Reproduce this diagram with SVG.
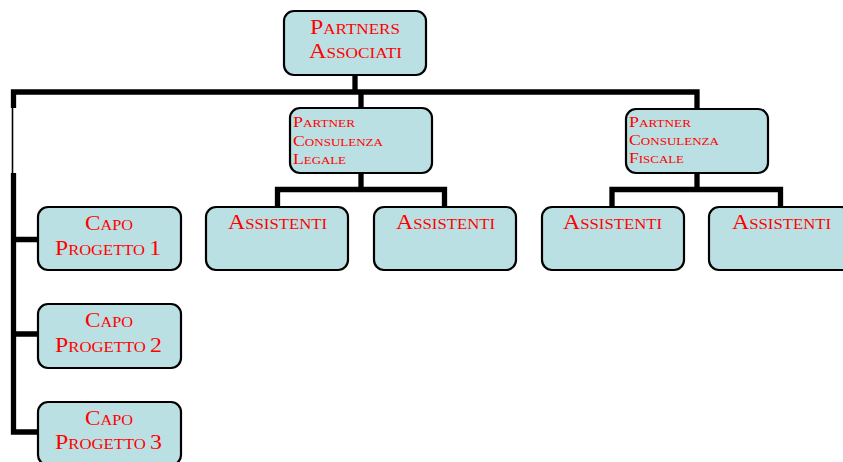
<svg xmlns="http://www.w3.org/2000/svg" width="843" height="462" viewBox="0 0 843 462">
<style>
.box{fill:#BBE0E3;stroke:#000;stroke-width:2.2}
.t{font-family:"Liberation Serif","Times New Roman",serif;fill:#FF0000}
.l{font-size:14px}.l .b{font-size:20px}
.m{font-size:15px}.m .b{font-size:21px}
.s{font-size:11px}.s .b{font-size:15px}
.c{fill:none;stroke:#000;stroke-width:5.3}
.thin{fill:none;stroke:#000;stroke-width:1.6}
</style>
<rect width="843" height="462" fill="#fff"/>
<g id="connectors">
<path class="c" d="M355,76V92M13.5,108V92H697V108M361,92V107"/>
<path class="thin" d="M12.5,108V173"/>
<path class="c" d="M13.5,173V434.5M11,239.5H37M11,334H37M11,432H37"/>
<path class="c" d="M361,174V189.5M277.5,206V189.5H444.5V206"/>
<path class="c" d="M697,173V189.5M612,206V189.5H780.5V206"/>
</g>
<g id="partners-associati">
<rect class="box" x="284" y="11" width="142" height="64" rx="10"/>
<text class="t m" x="310" y="34" textLength="90" lengthAdjust="spacingAndGlyphs"><tspan class="b">P</tspan>ARTNERS</text>
<text class="t m" x="309" y="58" textLength="93" lengthAdjust="spacingAndGlyphs"><tspan class="b">A</tspan>SSOCIATI</text>
</g>
<g id="partner-legale">
<rect class="box" x="290" y="108" width="142" height="65" rx="10"/>
<text class="t s" x="293" y="127" textLength="62" lengthAdjust="spacingAndGlyphs"><tspan class="b">P</tspan>ARTNER</text>
<text class="t s" x="293" y="145.5" textLength="90" lengthAdjust="spacingAndGlyphs"><tspan class="b">C</tspan>ONSULENZA</text>
<text class="t s" x="293" y="164" textLength="53" lengthAdjust="spacingAndGlyphs"><tspan class="b">L</tspan>EGALE</text>
</g>
<g id="partner-fiscale">
<rect class="box" x="626" y="109" width="142" height="64" rx="10"/>
<text class="t s" x="629" y="127" textLength="62" lengthAdjust="spacingAndGlyphs"><tspan class="b">P</tspan>ARTNER</text>
<text class="t s" x="629" y="144.5" textLength="90" lengthAdjust="spacingAndGlyphs"><tspan class="b">C</tspan>ONSULENZA</text>
<text class="t s" x="629" y="163" textLength="55" lengthAdjust="spacingAndGlyphs"><tspan class="b">F</tspan>ISCALE</text>
</g>
<g id="assistenti-1">
<rect class="box" x="206" y="207" width="142" height="63" rx="10"/>
<text class="t l" x="228" y="229" textLength="99" lengthAdjust="spacingAndGlyphs"><tspan class="b">A</tspan>SSISTENTI</text>
</g>
<g id="assistenti-2">
<rect class="box" x="374" y="207" width="142" height="63" rx="10"/>
<text class="t l" x="396" y="229" textLength="99" lengthAdjust="spacingAndGlyphs"><tspan class="b">A</tspan>SSISTENTI</text>
</g>
<g id="assistenti-3">
<rect class="box" x="542" y="207" width="142" height="63" rx="10"/>
<text class="t l" x="563" y="229" textLength="99" lengthAdjust="spacingAndGlyphs"><tspan class="b">A</tspan>SSISTENTI</text>
</g>
<g id="assistenti-4">
<rect class="box" x="709" y="207" width="142" height="63" rx="10"/>
<text class="t l" x="732" y="229" textLength="99" lengthAdjust="spacingAndGlyphs"><tspan class="b">A</tspan>SSISTENTI</text>
</g>
<g id="capo-progetto-1">
<rect class="box" x="38" y="207" width="143" height="63" rx="10"/>
<text class="t l" x="85" y="230" textLength="48" lengthAdjust="spacingAndGlyphs"><tspan class="b">C</tspan>APO</text>
<text class="t l" x="55" y="255" textLength="106" lengthAdjust="spacingAndGlyphs"><tspan class="b">P</tspan>ROGETTO <tspan class="b">1</tspan></text>
</g>
<g id="capo-progetto-2">
<rect class="box" x="38" y="304" width="143" height="64" rx="10"/>
<text class="t l" x="85" y="327" textLength="48" lengthAdjust="spacingAndGlyphs"><tspan class="b">C</tspan>APO</text>
<text class="t l" x="55" y="352" textLength="107" lengthAdjust="spacingAndGlyphs"><tspan class="b">P</tspan>ROGETTO <tspan class="b">2</tspan></text>
</g>
<g id="capo-progetto-3">
<rect class="box" x="38" y="402" width="143" height="63" rx="10"/>
<text class="t l" x="85" y="425" textLength="48" lengthAdjust="spacingAndGlyphs"><tspan class="b">C</tspan>APO</text>
<text class="t l" x="55" y="449" textLength="107" lengthAdjust="spacingAndGlyphs"><tspan class="b">P</tspan>ROGETTO <tspan class="b">3</tspan></text>
</g>
</svg>
